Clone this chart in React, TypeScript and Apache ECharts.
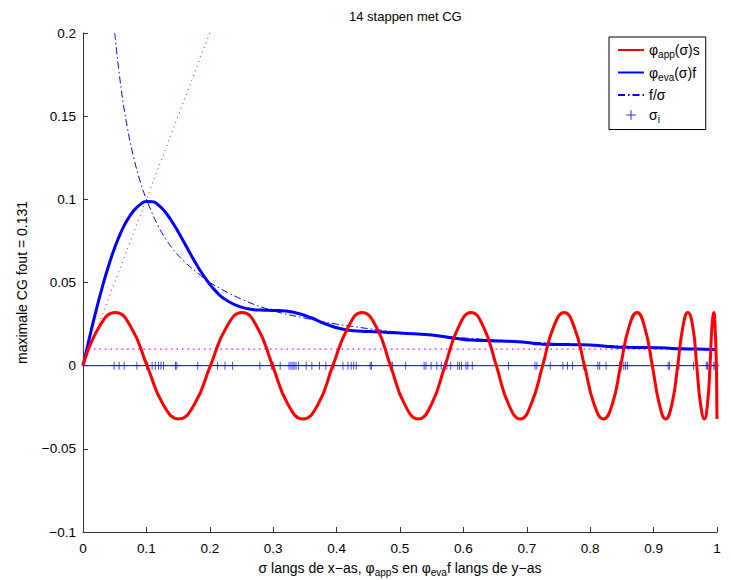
import React, { useEffect, useRef } from "react";
import * as echarts from "echarts";

const F = "'Liberation Sans', Arial, Helvetica, sans-serif";

// phi_app(sigma) * s  (red, thick)
const sigmaApp = [
  0, 0.025, 0.051, 0.076, 0.101, 0.126, 0.151, 0.176, 0.201, 0.226, 0.251, 0.275, 0.299, 0.323, 0.347, 0.371,
  0.394, 0.418, 0.44, 0.463, 0.485, 0.507, 0.529, 0.55, 0.571, 0.592, 0.612, 0.632, 0.652, 0.671, 0.69, 0.707,
  0.725, 0.742, 0.759, 0.775, 0.791, 0.806, 0.821, 0.835, 0.848, 0.861, 0.874, 0.886, 0.898, 0.909, 0.919, 0.929,
  0.938, 0.946, 0.954, 0.962, 0.968, 0.974, 0.98, 0.985, 0.989, 0.992, 0.995, 0.997, 0.999, 0.9997, 1.0,
];
const phiApp = [
  0, 0.023, 0.032, 0.023, 0, -0.023, -0.032, -0.023, 0, 0.023, 0.032, 0.023, 0, -0.023, -0.032, -0.023,
  0, 0.023, 0.032, 0.023, 0, -0.023, -0.032, -0.023, 0, 0.023, 0.032, 0.023, 0, -0.023, -0.032, -0.023,
  0, 0.023, 0.032, 0.023, 0, -0.023, -0.032, -0.023, 0, 0.023, 0.032, 0.023, 0, -0.023, -0.032, -0.023,
  0, 0.023, 0.032, 0.023, 0, -0.023, -0.032, -0.023, 0, 0.023, 0.032, 0.023, 0, -0.023, -0.032,
];

// phi_eva(sigma) * f  (blue, thick)
const sigmaEva = [
  0, 0.01, 0.02, 0.03, 0.04, 0.05, 0.06, 0.07, 0.08, 0.09, 0.1, 0.11, 0.12, 0.13, 0.14, 0.15, 0.16, 0.17, 0.18,
  0.19, 0.2, 0.21, 0.22, 0.24, 0.26, 0.28, 0.3, 0.32, 0.34, 0.36, 0.38, 0.4, 0.42, 0.44, 0.46, 0.48, 0.5, 0.52,
  0.54, 0.56, 0.58, 0.6, 0.62, 0.64, 0.66, 0.68, 0.7, 0.72, 0.74, 0.76, 0.78, 0.8, 0.82, 0.84, 0.86, 0.88, 0.9,
  0.92, 0.94, 0.96, 0.98, 1.0,
];
const phiEva = [
  0, 0.0165, 0.0322, 0.0466, 0.0596, 0.0709, 0.0803, 0.0877, 0.0931, 0.0968, 0.0987, 0.0985, 0.0962, 0.0922,
  0.0868, 0.0805, 0.0737, 0.0668, 0.0602, 0.0542, 0.0489, 0.0445, 0.0410, 0.0365, 0.0342, 0.0334, 0.0332,
  0.0328, 0.0314, 0.0288, 0.0255, 0.0228, 0.0213, 0.0207, 0.0204, 0.02, 0.0196, 0.0192, 0.0188, 0.018, 0.0168,
  0.0158, 0.0153, 0.015, 0.0148, 0.0146, 0.0139, 0.0131, 0.0127, 0.0127, 0.0126, 0.0124, 0.0118, 0.0112, 0.011,
  0.0109, 0.0108, 0.0106, 0.0101, 0.01, 0.0099, 0.0095,
];

// f / sigma  (blue, dash-dot)
const sigmaF = [0.05, 0.06, 0.07, 0.08, 0.09, 0.1, 0.12, 0.14, 0.16, 0.18, 0.2, 0.25, 0.3, 0.35, 0.4, 0.5, 0.6, 0.7, 0.8, 0.9, 1.0];
const fOverSigma = [0.2, 0.167, 0.143, 0.125, 0.111, 0.1, 0.083, 0.071, 0.0625, 0.056, 0.05, 0.04, 0.033, 0.0286, 0.025, 0.02, 0.0167, 0.0143, 0.0125, 0.0111, 0.01];

// sigma_i  (blue plus markers on y = 0)
const sigmaI = [
  0.049, 0.057, 0.065, 0.085, 0.1, 0.102, 0.109, 0.114, 0.119, 0.123, 0.127, 0.146, 0.148, 0.181, 0.212, 0.224,
  0.236, 0.279, 0.297, 0.3, 0.311, 0.325, 0.328, 0.331, 0.333, 0.336, 0.34, 0.352, 0.361, 0.373, 0.383, 0.396,
  0.41, 0.418, 0.423, 0.427, 0.431, 0.453, 0.455, 0.486, 0.488, 0.509, 0.538, 0.541, 0.549, 0.558, 0.565, 0.571,
  0.574, 0.58, 0.591, 0.594, 0.597, 0.604, 0.607, 0.614, 0.671, 0.713, 0.716, 0.737, 0.757, 0.764, 0.772, 0.789,
  0.812, 0.815, 0.825, 0.846, 0.849, 0.853, 0.856, 0.859, 0.923, 0.925, 0.938, 0.94, 0.963, 0.983, 0.985, 0.995,
  0.997,
];

// reference lines
const diagX = [0, 0.2];
const diagY = [0, 0.2];
const levelX = [0, 1];
const levelY = [0.01, 0.01];
const zeroX = [0, 1];
const zeroY = [0, 0];

const NAMES = { app: "phi_app", eva: "phi_eva", fs: "f/sigma", si: "sigma_i" };
const LEGEND_TEXT: Record<string, string> = {
  phi_app: "{n|φ}{s|app}{n|(σ)s}",
  phi_eva: "{n|φ}{s|eva}{n|(σ)f}",
  "f/sigma": "{n|f/σ}",
  sigma_i: "{n|σ}{s|i}",
};

const PLUS = "path://M4,0L5,0L5,9L4,9ZM0,4L9,4L9,5L0,5Z";
const PLUS_PADDED = "path://M-2,-2M11,11M4,0L5,0L5,9L4,9ZM0,4L9,4L9,5L0,5Z";

const pairs = (xs: number[], ys: number[]) => xs.map((x, i) => [x, ys[i]]);

const rich = {
  n: { fontSize: 14, fontFamily: F, color: "#000" },
  s: { fontSize: 10, fontFamily: F, color: "#000", padding: [9, 0, 0, 0] },
};

function fmt(v: number) {
  const r = Math.round(v * 1000) / 1000;
  return String(r).replace("-", "\u2212");
}

export default function App() {
  const ref = useRef<HTMLDivElement>(null);
  useEffect(() => {
    const chart = echarts.init(ref.current!, null, { renderer: "svg" });
    const hide = { opacity: 0 };
    const option: any = {
      animation: false,
      backgroundColor: "#fff",
      title: {
        text: "14 stappen met CG",
        left: 344,
        top: 5,
        textStyle: { fontSize: 13, fontWeight: "normal", color: "#000", fontFamily: F },
      },
      grid: { left: 83, right: 14, top: 33, bottom: 48, containLabel: false, outerBoundsMode: "none" },
      xAxis: {
        type: "value",
        min: 0,
        max: 1,
        interval: 0.1,
        splitLine: { show: false },
        axisLine: { show: true, onZero: false, lineStyle: { color: "#333", width: 1 } },
        axisTick: { show: true, inside: true, length: 5, lineStyle: { color: "#333" } },
        axisLabel: { color: "#000", fontSize: 13.5, fontFamily: F, margin: 9, formatter: fmt },
        name: "{n|σ langs de x\u2212as, φ}{s|app}{n|s en φ}{s|eva}{n|f langs de y\u2212as}",
        nameLocation: "middle",
        nameGap: 26,
        nameTextStyle: { rich },
      },
      yAxis: {
        type: "value",
        min: -0.1,
        max: 0.2,
        interval: 0.05,
        splitLine: { show: false },
        axisLine: { show: true, onZero: false, lineStyle: { color: "#333", width: 1 } },
        axisTick: { show: true, inside: true, length: 5, lineStyle: { color: "#333" } },
        axisLabel: { color: "#000", fontSize: 13.5, fontFamily: F, margin: 7, formatter: fmt },
        name: "maximale CG fout = 0.131",
        nameLocation: "middle",
        nameGap: 54,
        nameTextStyle: { fontSize: 14, color: "#000", fontFamily: F },
      },
      legend: {
        orient: "vertical",
        left: 609,
        top: 37,
        padding: [6, 6, 5, 8],
        itemGap: 6,
        itemWidth: 26,
        itemHeight: 14,
        borderColor: "#000",
        borderWidth: 1,
        borderRadius: 0,
        backgroundColor: "#fff",
        data: [
          { name: NAMES.app, itemStyle: hide },
          { name: NAMES.eva, itemStyle: hide },
          { name: NAMES.fs, itemStyle: hide },
          { name: NAMES.si, icon: PLUS_PADDED },
        ],
        formatter: (name: string) => LEGEND_TEXT[name] || name,
        textStyle: { rich },
      },
      series: [
        {
          type: "line",
          name: "zero",
          data: pairs(zeroX, zeroY),
          symbol: "none",
          lineStyle: { color: "#0000ff", width: 1 },
          z: 1,
          silent: true,
        },
        {
          type: "line",
          name: "level",
          data: pairs(levelX, levelY),
          symbol: "none",
          lineStyle: { color: "#ff00ff", width: 1.2, type: [1.5, 4] },
          z: 1,
          silent: true,
        },
        {
          type: "scatter",
          name: NAMES.si,
          data: pairs(sigmaI, sigmaI.map(() => 0)),
          symbol: PLUS,
          symbolSize: 8,
          itemStyle: { color: "#0000ff" },
          z: 2,
        },
        {
          type: "line",
          name: "diag",
          data: pairs(diagX, diagY),
          symbol: "none",
          lineStyle: { color: "#ff0000", width: 1, type: [1, 4] },
          z: 3,
          silent: true,
        },
        {
          type: "line",
          name: NAMES.fs,
          data: pairs(sigmaF, fOverSigma),
          symbol: "none",
          smooth: 0.4,
          lineStyle: { color: "#0000ff", width: 1, type: [7, 3, 1.5, 3] },
          itemStyle: { color: "#0000ff" },
          z: 3,
        },
        {
          type: "line",
          name: NAMES.eva,
          data: pairs(sigmaEva, phiEva),
          symbol: "none",
          smooth: 0.5,
          lineStyle: { color: "#0000ff", width: 3 },
          itemStyle: { color: "#0000ff" },
          z: 4,
        },
        {
          type: "line",
          name: NAMES.app,
          data: pairs(sigmaApp, phiApp),
          symbol: "none",
          smooth: 0.5,
          lineStyle: { color: "#ff0000", width: 3 },
          itemStyle: { color: "#ff0000" },
          z: 5,
        },
      ],
    };
    chart.setOption(option);
    return () => chart.dispose();
  }, []);
  return <div ref={ref} style={{ position: "fixed", left: 0, top: 0, width: 731, height: 580 }} />;
}
